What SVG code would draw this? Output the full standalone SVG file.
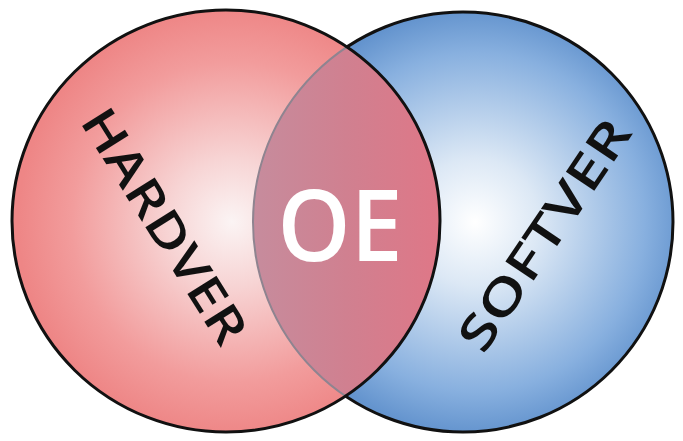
<svg xmlns="http://www.w3.org/2000/svg" width="683" height="441" viewBox="0 0 683 441">
  <defs>
    <radialGradient id="gRed" gradientUnits="userSpaceOnUse" cx="232" cy="222" r="214">
      <stop offset="0" stop-color="#fbf4f4"/>
      <stop offset="0.3" stop-color="#f7d4d4"/>
      <stop offset="0.75" stop-color="#f29c9c"/>
      <stop offset="1" stop-color="#ee8686"/>
    </radialGradient>
    <radialGradient id="gBlue" gradientUnits="userSpaceOnUse" cx="475" cy="222" r="212">
      <stop offset="0" stop-color="#ffffff"/>
      <stop offset="0.3" stop-color="#dce8f5"/>
      <stop offset="0.8" stop-color="#88b0df"/>
      <stop offset="1" stop-color="#6494ce"/>
    </radialGradient>
    <linearGradient id="gLens" gradientUnits="userSpaceOnUse" x1="253" y1="0" x2="440" y2="0">
      <stop offset="0" stop-color="#c68c9d"/>
      <stop offset="0.5" stop-color="#d08090"/>
      <stop offset="1" stop-color="#df7787"/>
    </linearGradient>
    <clipPath id="clipRed">
      <ellipse cx="226" cy="221" rx="214" ry="211"/>
    </clipPath>
    <style>
      .lbl { font-family: "Open Sans", "Liberation Sans", sans-serif; font-weight: 600; }
    </style>
  </defs>
  <rect width="683" height="441" fill="#ffffff"/>
  <g id="softver">
    <ellipse cx="463" cy="222" rx="210" ry="210" fill="url(#gBlue)" stroke="#111" stroke-width="3"/>
  </g>
  <g id="hardver">
    <ellipse cx="226" cy="221" rx="214" ry="211" fill="url(#gRed)"/>
  </g>
  <g id="oe">
    <ellipse cx="463" cy="222" rx="210" ry="210" fill="url(#gLens)" clip-path="url(#clipRed)"/>
    <ellipse cx="463" cy="222" rx="210" ry="210" fill="none" stroke="#8f8490" stroke-width="2" clip-path="url(#clipRed)"/>
  </g>
  <ellipse cx="226" cy="221" rx="214" ry="211" fill="none" stroke="#111" stroke-width="3"/>
  <text class="lbl" x="0" y="0" font-size="48" fill="#111" text-anchor="middle" dominant-baseline="central" textLength="268" lengthAdjust="spacingAndGlyphs" transform="translate(166,225) rotate(58)">HARDVER</text>
  <text class="lbl" x="0" y="0" font-size="48" fill="#111" text-anchor="middle" dominant-baseline="central" textLength="268" lengthAdjust="spacingAndGlyphs" transform="translate(543,234) rotate(-56)">SOFTVER</text>
  <text class="lbl" x="340" y="222" font-size="100" fill="#ffffff" text-anchor="middle" dominant-baseline="central" textLength="125" lengthAdjust="spacingAndGlyphs">OE</text>
</svg>
